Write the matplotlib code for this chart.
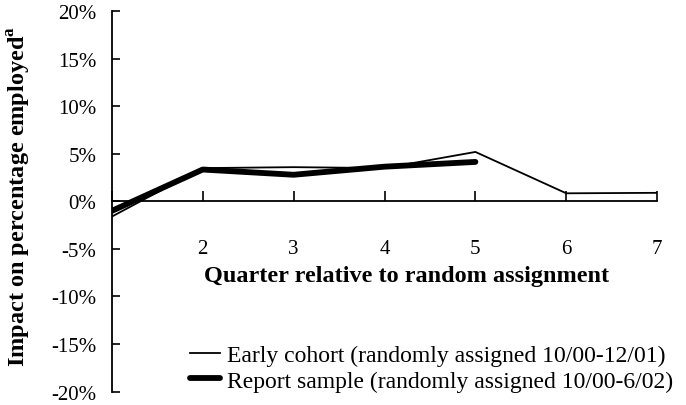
import numpy as np
import matplotlib.pyplot as plt
from matplotlib.ticker import PercentFormatter

# ── data (impact in percentage points) ───────────────────────────────
quarters = [1, 2, 3, 4, 5, 6, 7]
quarter_labels = ["1", "2", "3", "4", "5", "6", "7"]
early_cohort = [-1.6, 3.5, 3.6, 3.5, 5.2, 0.85, 0.9]
report_quarters = [1, 2, 3, 4, 5]
report_sample = [-1.0, 3.35, 2.8, 3.65, 4.15]
y_ticks = [-20, -15, -10, -5, 0, 5, 10, 15, 20]

plt.rcParams["font.family"] = ["Liberation Serif", "DejaVu Serif"]
plt.rcParams["axes.unicode_minus"] = False
plt.rcParams["mathtext.fontset"] = "custom"
plt.rcParams["mathtext.rm"] = "Liberation Serif"
plt.rcParams["mathtext.bf"] = "Liberation Serif:bold"

fig = plt.figure(figsize=(6.86, 4.06), dpi=100)
ax = fig.add_axes([0.163, 0.033, 0.795, 0.937])

ax.plot(quarters, early_cohort, color="black", linewidth=1.3,
        label="Early cohort (randomly assigned 10/00-12/01)")
ax.plot(report_quarters, report_sample, color="black", linewidth=4.2,
        solid_capstyle="round",
        label="Report sample (randomly assigned 10/00-6/02)")

ax.set_xlim(1, 7)
ax.set_ylim(-20, 20)
ax.set_yticks(y_ticks)
ax.yaxis.set_major_formatter(PercentFormatter(decimals=0))
ax.set_xticks(quarters)
# the "1" is hidden behind the vertical axis in the original
ax.set_xticklabels([""] + quarter_labels[1:])

for s in ["top", "right"]:
    ax.spines[s].set_visible(False)
ax.spines["bottom"].set_position(("data", 0))
ax.spines["bottom"].set_linewidth(1.3)
ax.spines["left"].set_linewidth(1.3)

ax.tick_params(axis="y", direction="in", length=6, width=1.2,
               labelsize=15, pad=11)
ax.tick_params(axis="x", direction="in", length=7, width=1.2,
               labelsize=15, pad=27)

ax.text(4.24, -7.8, "Quarter relative to random assignment",
        ha="center", va="center", fontsize=17.5, fontweight="bold")
fig.text(0.029, 0.515, r"Impact on percentage employed$^{\mathbf{a}}$",
         rotation=90, ha="center", va="center", fontsize=17.5,
         fontweight="bold")

ax.legend(loc="lower left", bbox_to_anchor=(0.143, 0.0), frameon=False,
          fontsize=17, handlelength=1.27, handletextpad=0.3,
          labelspacing=0.18, borderpad=0, borderaxespad=0)

plt.savefig("out.png", dpi=100)
